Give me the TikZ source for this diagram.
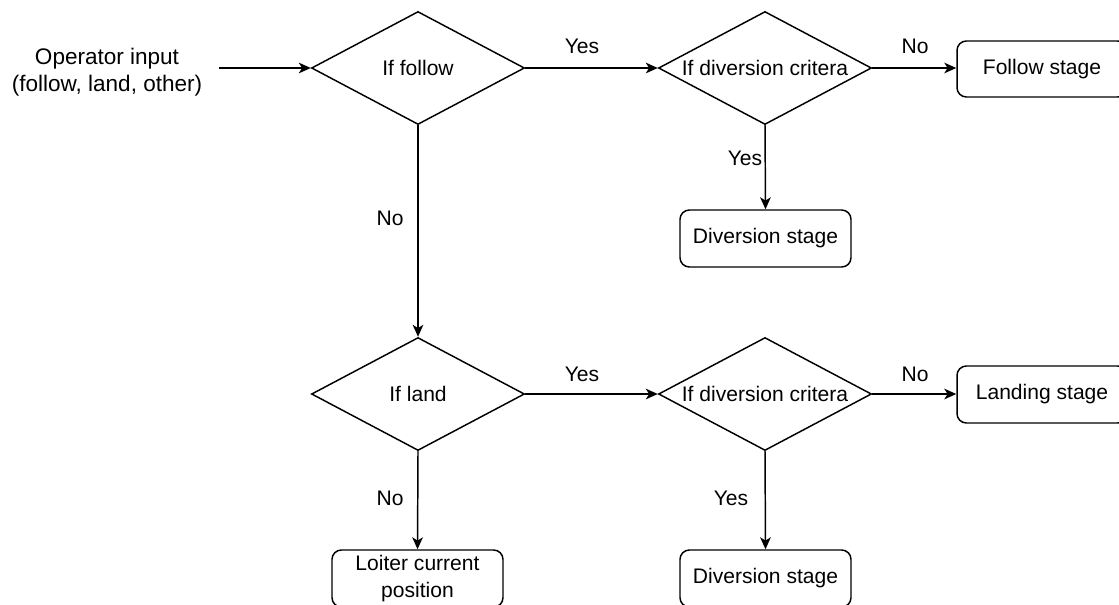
\documentclass[tikz,border=0pt]{standalone}
\usepackage{fontspec}
\setmainfont{Liberation Sans}
\usetikzlibrary{shapes.geometric,arrows.meta}

% sizes below are given in pt; one drawing unit is 0.75pt
\tikzset{
  base/.style={line width=1.1pt, draw=black, font=\fontsize{15.8}{20.25}\selectfont},
  decision/.style={base, diamond, inner sep=0pt, minimum width=159.75pt, minimum height=84.75pt},
  stagebox/.style={base, rectangle, rounded corners=7pt, minimum width=128.25pt, minimum height=42.75pt, align=center, inner sep=0pt},
  flow/.style={line width=1.1pt, -{Stealth[length=9pt,width=8pt,inset=2.5pt]}},
  tag/.style={font=\fontsize{15.8}{20.25}\selectfont, inner sep=0pt},
}
\newcommand{\dtext}[1]{\makebox[0pt]{#1}}

\begin{document}
\begin{tikzpicture}[x=0.75pt,y=-0.75pt]
  \useasboundingbox (0,0) rectangle (1119,604);
  \clip (0,0) rectangle (1119,604);

  % inputs and decisions
  \node[tag, align=center, font=\fontsize{16.9}{20.25}\selectfont] (input) at (107,72.5) {Operator input\\(follow, land, other)};
  \coordinate (start) at (219,68);
  \node[decision] (follow) at (418,68) {\dtext{If follow}};
  \node[decision] (divA) at (765,68) {\dtext{If diversion critera}};
  \node[decision] (land) at (418,394) {\dtext{If land}};
  \node[decision] (divB) at (765,394) {\dtext{If diversion critera}};

  % stages
  \node[stagebox, minimum width=127.5pt, minimum height=42pt] (followstage) at (1042,69) {Follow stage};
  \node[stagebox] (diversionA) at (765.5,238.5) {Diversion stage};
  \node[stagebox, minimum width=127.5pt] (landing) at (1042,394.5) {Landing stage};
  \node[stagebox] (loiter) at (417.5,578.5) {Loiter current\\position};
  \node[stagebox] (diversionB) at (765.5,578.5) {Diversion stage};

  % connectors
  \draw[flow] (start) -- (follow.west);
  \draw[flow] (follow.east) -- (divA.west);
  \draw[flow] (divA.east) -- (followstage.west |- divA.east);
  \draw[flow] (divA.south) -- (diversionA.north);
  \draw[flow] (follow.south) -- (land.north);
  \draw[flow] (land.east) -- (divB.west);
  \draw[flow] (divB.east) -- (landing.west |- divB.east);
  \draw[flow] (land.south) -- (loiter.north);
  \draw[flow] (divB.south) -- (diversionB.north);

  % branch labels
  \node[tag] (y1) at (582,46) {Yes};
  \node[tag] (n1) at (915,46) {No};
  \node[tag] (y2) at (745,158) {Yes};
  \node[tag] (n2) at (390,218) {No};
  \node[tag] (y3) at (582,374) {Yes};
  \node[tag] (n3) at (915,374) {No};
  \node[tag] (n4) at (390,498) {No};
  \node[tag] (y4) at (731,498) {Yes};
\end{tikzpicture}
\end{document}
